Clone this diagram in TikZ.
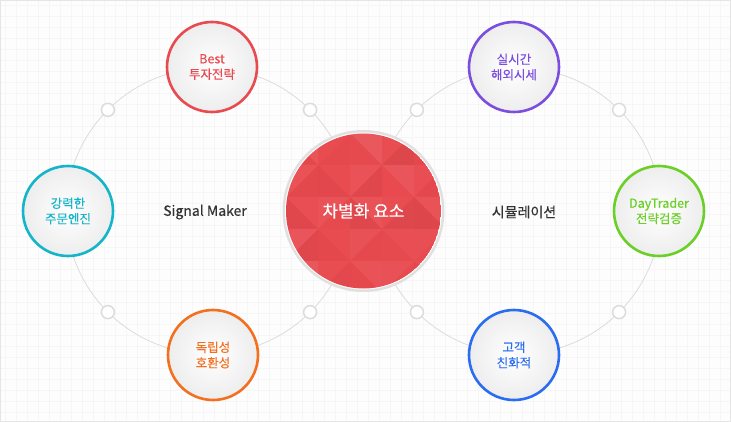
\documentclass[tikz,border=0pt]{standalone}
\usepackage{fontspec}
\setmainfont{Noto Sans CJK KR}
\newfontfamily\krb{Noto Sans CJK KR}[FakeBold=0.35]
\usetikzlibrary{calc}
\definecolor{cred}{HTML}{E84A4F}
\definecolor{ccyan}{HTML}{14B4C9}
\definecolor{corange}{HTML}{F2701F}
\definecolor{cpurple}{HTML}{7B4EE0}
\definecolor{cgreen}{HTML}{6ACF26}
\definecolor{cblue}{HTML}{2A6DF0}
\definecolor{bgc}{HTML}{FDFDFD}
\definecolor{gridc}{HTML}{F6F6F6}
\definecolor{ringc}{HTML}{DCDCDC}
\definecolor{txt}{HTML}{333333}
\tikzset{
  feature/.style={circle, minimum size=90pt, inner sep=0pt, line width=2.6pt,
    shading=radial, inner color=white, outer color=black!7, font=\krb\fontsize{12.5}{15.5}\selectfont, align=center},
  dot/.style={circle, minimum size=13pt, inner sep=0pt, draw=ringc, line width=1.5pt, fill=white},
  ring/.style={draw=ringc, line width=0.8pt},
  label/.style={text=txt, font=\krb\fontsize{14}{16}\selectfont, inner sep=0pt},
}
\begin{document}
\begin{tikzpicture}[x=1pt,y=-1pt]
\useasboundingbox (0,0) rectangle (731,422);
\fill[bgc] (0,0) rectangle (731,422);
\foreach \x in {5,16,...,731} \draw[gridc, line width=0.5pt] (\x,0) -- (\x,422);
\foreach \y in {5,16,...,422} \draw[gridc, line width=0.5pt] (0,\y) -- (731,\y);
\draw[black!10, line width=1pt] (0.5,0.5) rectangle (730.5,421.5);
% rings
\coordinate (L) at (209,211);
\coordinate (R) at (518,211);
\coordinate (C) at (363.5,211);
\draw[ring] (L) circle (143);
\draw[ring] (R) circle (143);
% small dots
\foreach \c/\n in {L/l, R/r} {
  \foreach \a/\m in {45/a,135/b,225/c,315/d}
    \node[dot] (\n\m) at ($(\c)+(\a:143 and -143)$) {};
}
% center circle
\fill[black!12] (C) circle (81);
\fill[white] (C) circle (78.5);
\begin{scope}
  \clip (C) circle (77.5);
  \fill[cred] (C) circle (77.5);
  \pgfmathsetseed{11}
  \foreach \i in {0,...,5} {
    \foreach \j in {0,...,5} {
      \pgfmathsetmacro\xa{286+\i*32}
      \pgfmathsetmacro\ya{133+\j*32}
      \pgfmathsetmacro\oa{rnd*0.09}
      \pgfmathsetmacro\ob{rnd*0.09}
      \pgfmathsetmacro\da{rnd*0.05}
      \pgfmathsetmacro\db{rnd*0.05}
      \pgfmathtruncatemacro\pty{mod(\i+\j,2)}
      \ifnum\pty=0
        \fill[white, opacity=\oa] (\xa,\ya) -- (\xa+32,\ya) -- (\xa+32,\ya+32) -- cycle;
        \fill[black, opacity=\da] (\xa,\ya) -- (\xa,\ya+32) -- (\xa+32,\ya+32) -- cycle;
      \else
        \fill[white, opacity=\ob] (\xa+32,\ya) -- (\xa,\ya+32) -- (\xa,\ya) -- cycle;
        \fill[black, opacity=\db] (\xa+32,\ya) -- (\xa,\ya+32) -- (\xa+32,\ya+32) -- cycle;
      \fi
    }
  }
  \fill[black, opacity=0.08] (400,300) -- (460,240) -- (460,300) -- cycle;
\end{scope}
\node[text=white, font=\krb\fontsize{17}{20}\selectfont, inner sep=0pt] (center) at (C) {차별화 요소};
% side labels
\node[label] (signal) at (205,212) {Signal Maker};
\node[label] (sim) at (524,212) {시뮬레이션};
% feature circles
\node[feature, draw=cred, text=cred] (best) at (212,67) {Best\\투자전략};
\node[feature, draw=ccyan, text=ccyan] (engine) at (68,211) {강력한\\주문엔진};
\node[feature, draw=corange, text=corange] (indep) at (213,355) {독립성\\호환성};
\node[feature, draw=cpurple, text=cpurple] (real) at (514,67) {실시간\\해외시세};
\node[feature, draw=cgreen, text=cgreen] (day) at (659,211) {DayTrader\\전략검증};
\node[feature, draw=cblue, text=cblue] (cust) at (514,355) {고객\\친화적};
\end{tikzpicture}
\end{document}
